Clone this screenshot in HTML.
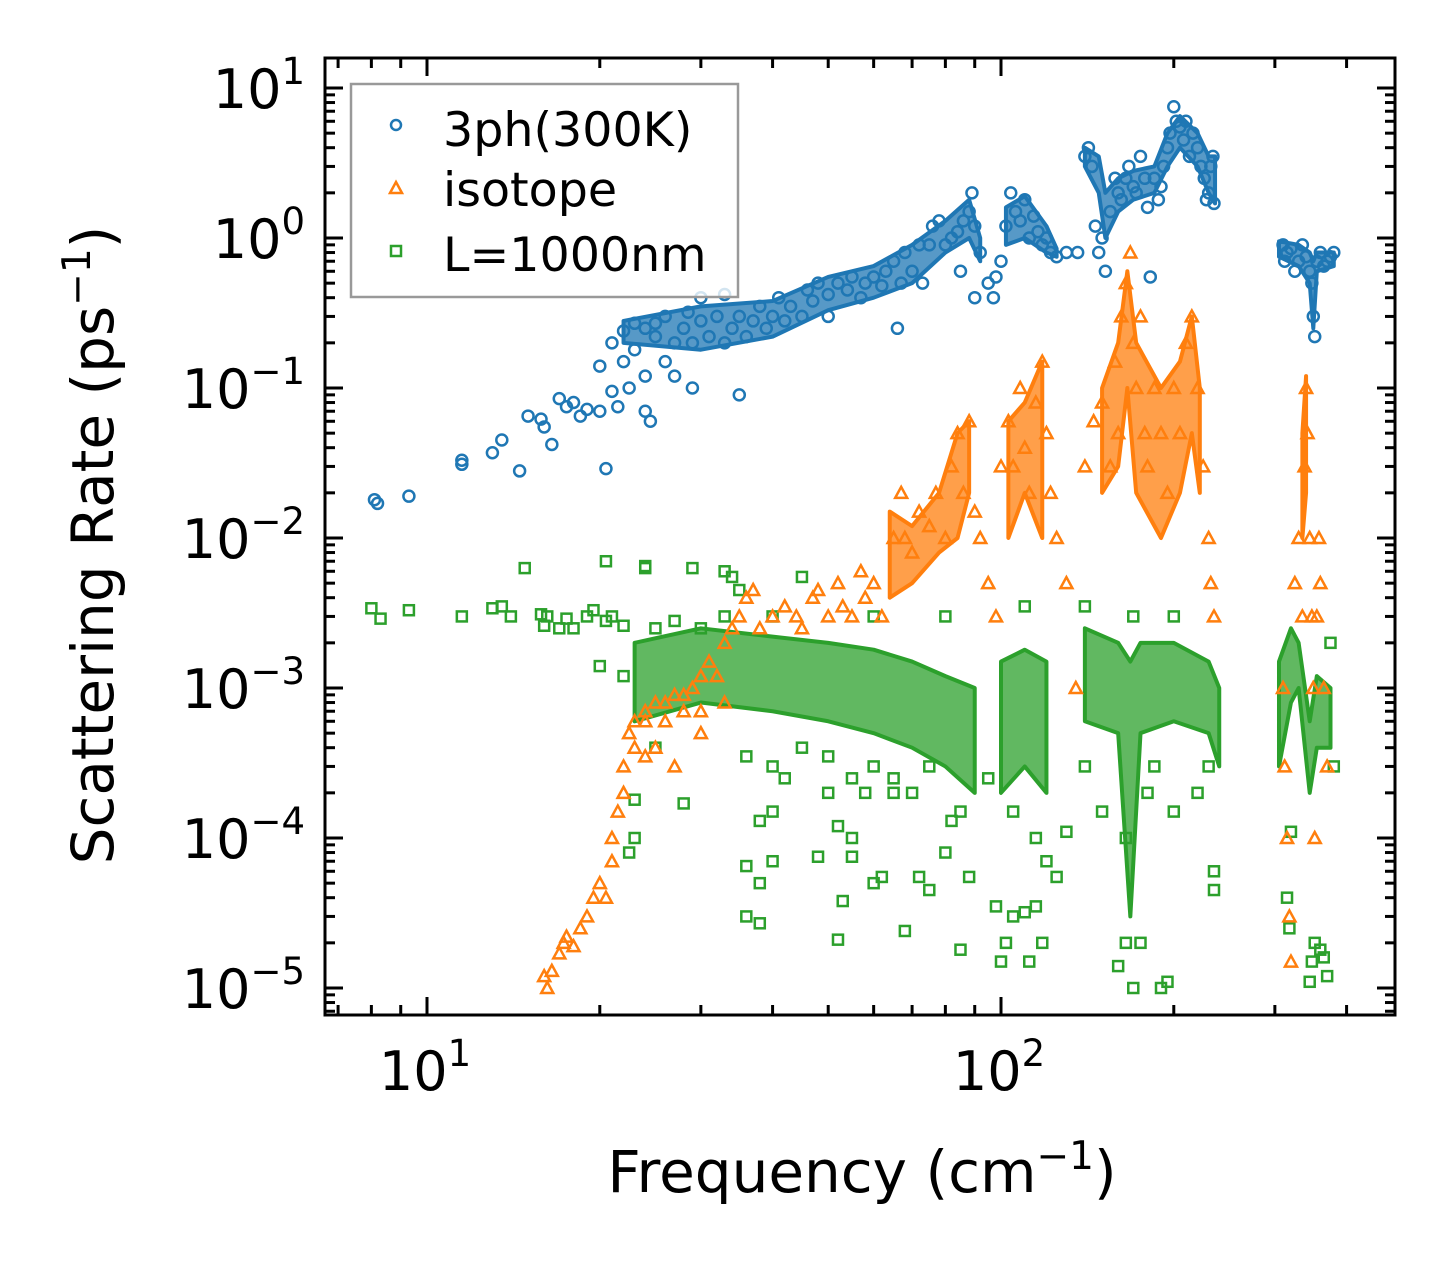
<!DOCTYPE html>
<html><head><meta charset="utf-8"><style>
body{margin:0;background:#fff}
svg{display:block}
text{font-family:"DejaVu Sans","Liberation Sans",sans-serif;fill:#000}
</style></head><body>
<svg id="chart" width="1455" height="1265" viewBox="0 0 1455 1265" xmlns="http://www.w3.org/2000/svg">
<rect width="1455" height="1265" fill="#fff"/>
<g id="bands"></g>
<g id="points"></g>
<g id="axes"></g>
<g>
<rect x="351" y="84" width="387" height="213" fill="#fff" fill-opacity="0.8" stroke="#999" stroke-width="2.5"/>
<circle cx="396" cy="125" r="5" fill="none" stroke="#1f77b4" stroke-width="2.5"/>
<text x="443" y="146" font-size="47.5">3ph(300K)</text>
<polygon points="396,182 402,193 390,193" fill="none" stroke="#ff7f0e" stroke-width="2.5"/>
<text x="443" y="206" font-size="47.5">isotope</text>
<rect x="391" y="246" width="10" height="10" fill="none" stroke="#2ca02c" stroke-width="2.5"/>
<text x="443" y="271" font-size="47.5">L=1000nm</text>
</g>
<text x="862" y="1192" font-size="58" text-anchor="middle">Frequency (cm<tspan dy="-23" font-size="39">−1</tspan><tspan dy="23">)</tspan></text>
<text transform="translate(113,545) rotate(-90)" font-size="58" text-anchor="middle">Scattering Rate (ps<tspan dy="-23" font-size="39">−1</tspan><tspan dy="23">)</tspan></text>
</svg>
<script>
const blue3ph = [[8.1,0.018],[8.2,0.017],[9.3,0.019],[11.5,0.033],[11.5,0.031],[13,0.037],[13.5,0.045],[14.5,0.028],[15,0.065],[15.8,0.062],[16,0.055],[16.5,0.042],[17,0.085],[17.5,0.075],[18,0.08],[18.5,0.065],[19,0.072],[20,0.07],[20,0.14],[20.5,0.029],[21,0.095],[21.5,0.075],[21,0.2],[22,0.15],[22,0.24],[22.5,0.1],[23,0.27],[23,0.18],[24,0.25],[24,0.12],[24,0.07],[24.5,0.06],[25,0.22],[25,0.27],[26,0.15],[26,0.3],[27,0.2],[27,0.12],[28,0.25],[28.5,0.32],[29,0.1],[29,0.2],[30,0.28],[30,0.4],[31,0.22],[32,0.3],[33,0.42],[33,0.2],[34,0.25],[35,0.3],[35,0.09],[36,0.22],[37,0.28],[38,0.35],[39,0.25],[40,0.3],[41,0.4],[42,0.28],[43,0.35],[45,0.3],[46,0.45],[47,0.38],[48,0.5],[50,0.42],[50,0.3],[52,0.5],[54,0.45],[55,0.55],[57,0.4],[58,0.5],[60,0.55],[62,0.48],[63,0.6],[65,0.7],[66,0.25],[67,0.5],[68,0.8],[70,0.6],[72,0.9],[73,0.5],[75,0.9],[76,1.2],[78,1.3],[80,0.9],[82,1.0],[84,1.1],[85,0.6],[86,1.3],[88,1.5],[89,2.0],[90,1.2],[90,0.4],[92,0.8],[95,0.5],[97,0.4],[98,0.55],[100,0.7],[102,1.2],[104,2.0],[106,1.5],[108,1.3],[110,1.8],[112,1.0],[114,1.4],[116,1.1],[118,0.9],[120,1.0],[122,0.8],[125,0.75],[130,0.8],[136,0.8],[140,3.5],[142,4.0],[144,3.0],[146,1.2],[148,0.8],[150,1.0],[152,0.6],[155,1.5],[158,2.5],[160,2.0],[162,1.8],[165,2.5],[167,3.0],[170,2.2],[172,2.0],[175,3.5],[178,2.5],[180,1.6],[182,0.55],[185,2.5],[188,1.8],[190,2.2],[192,3.0],[195,4.0],[197,5.0],[200,7.5],[202,6.0],[205,5.5],[208,4.5],[210,6.0],[213,3.5],[216,5.0],[220,4.0],[223,3.0],[226,2.5],[228,1.8],[230,2.0],[232,3.0],[234,3.5],[235,1.7],[310,0.9],[312,0.7],[315,0.8],[320,0.85],[325,0.6],[330,0.7],[335,0.9],[340,0.75],[345,0.6],[348,0.5],[350,0.3],[352,0.22],[355,0.7],[360,0.8],[365,0.65],[370,0.7],[375,0.75],[380,0.8]];
const orangeIso = [[16,1.2e-5],[16.2,1.0e-5],[16.5,1.3e-5],[17,1.7e-5],[17.3,2e-5],[17.5,2.2e-5],[18,1.9e-5],[18.5,2.5e-5],[19,3e-5],[19.5,4e-5],[20,5e-5],[20.5,4e-5],[21,7e-5],[21,1e-4],[21.5,1.5e-4],[22,2e-4],[22,3e-4],[22.5,5e-4],[23,4e-4],[23,6e-4],[24,7e-4],[24,3.5e-4],[25,8e-4],[25,4e-4],[26,6e-4],[27,9e-4],[27,3e-4],[28,7e-4],[29,1e-3],[30,5e-4],[31,1.5e-3],[33,2e-3],[35,3e-3],[36,4e-3],[38,2.5e-3],[40,3e-3],[42,3.5e-3],[45,2.5e-3],[47,4e-3],[50,3e-3],[52,5e-3],[55,3e-3],[57,6e-3],[60,5e-3],[62,3e-3],[65,1e-2],[67,2e-2],[68,1e-2],[70,8e-3],[72,1.5e-2],[75,1.2e-2],[77,2e-2],[80,1e-2],[82,3e-2],[84,5e-2],[86,2e-2],[88,6e-2],[90,1.5e-2],[92,1e-2],[95,5e-3],[98,3e-3],[100,3e-2],[103,6e-2],[105,3e-2],[108,1e-1],[110,4e-2],[112,2e-2],[115,8e-2],[118,1.5e-1],[120,5e-2],[122,2e-2],[125,1e-2],[130,5e-3],[135,1e-3],[140,3e-2],[145,6e-2],[150,8e-2],[155,3e-2],[158,1.5e-1],[160,5e-2],[162,0.3],[165,0.5],[168,0.8],[170,0.2],[172,0.1],[175,0.3],[178,0.05],[180,0.03],[185,0.1],[190,0.05],[195,0.02],[200,0.1],[205,0.05],[210,0.2],[215,0.3],[220,0.1],[225,0.03],[230,0.01],[232,0.005],[235,0.003],[310,1e-3],[312,3e-4],[315,1e-4],[318,3e-5],[320,1.5e-5],[325,5e-3],[330,1e-2],[335,3e-3],[338,3e-2],[340,0.1],[342,0.05],[345,1e-2],[348,3e-3],[350,1e-3],[352,1e-4],[355,3e-3],[358,1e-2],[360,5e-3],[365,1e-3],[370,3e-4],[24,6e-4],[26,8e-4],[28,9e-4],[30,1.2e-3],[32,1.2e-3],[34,2.5e-3],[37,4.5e-3],[44,3e-3],[48,4.5e-3],[53,3.5e-3],[58,4e-3],[33,8e-4],[30,7e-4]];
const greenBoundary = [[8,3.4e-3],[8.3,2.9e-3],[9.3,3.3e-3],[11.5,3e-3],[13,3.4e-3],[13.5,3.5e-3],[14,3e-3],[14.8,6.3e-3],[15.8,3.1e-3],[16,2.6e-3],[16.2,3e-3],[17,2.5e-3],[17.5,2.9e-3],[18,2.5e-3],[19,3e-3],[19.5,3.3e-3],[20,1.4e-3],[20.5,7e-3],[20.5,2.8e-3],[21,3e-3],[22,2.6e-3],[22,1.2e-3],[22.5,8e-5],[23,1e-4],[23,1.8e-4],[24,6.3e-3],[24,6.5e-3],[25,4e-4],[28,1.7e-4],[29,6.3e-3],[30,2.5e-3],[33,6e-3],[34,5.5e-3],[35,4.5e-3],[36,6.5e-5],[36,3e-5],[38,2.7e-5],[38,5e-5],[38,1.3e-4],[40,7e-5],[40,1.5e-4],[42,2.5e-4],[45,5.5e-3],[48,7.5e-5],[50,2e-4],[52,1.2e-4],[52,2.1e-5],[53,3.8e-5],[55,1e-4],[55,7.5e-5],[58,2e-4],[60,5e-5],[62,5.5e-5],[65,2e-4],[68,2.4e-5],[72,5.5e-5],[75,4.5e-5],[80,8e-5],[82,1.3e-4],[85,1.8e-5],[88,5.5e-5],[95,2.5e-4],[98,3.5e-5],[100,1.5e-5],[102,2e-5],[105,3e-5],[110,3.2e-5],[112,1.5e-5],[115,3.5e-5],[118,2e-5],[120,7e-5],[125,5.5e-5],[130,1.1e-4],[140,3e-4],[150,1.5e-4],[160,1.4e-5],[165,2e-5],[170,1e-5],[175,2e-5],[180,2e-4],[190,1e-5],[195,1.1e-5],[200,1.5e-4],[220,2e-4],[235,6e-5],[235,4.5e-5],[315,4e-5],[318,2.5e-5],[320,1.1e-4],[345,1.1e-5],[348,1.5e-5],[352,2e-5],[360,1.8e-5],[365,1.6e-5],[370,1.2e-5],[375,2e-3],[380,3e-4],[60,3e-3],[80,3e-3],[110,3.5e-3],[140,3.5e-3],[170,3e-3],[200,3e-3],[36,3.5e-4],[40,3e-4],[45,4e-4],[50,3.5e-4],[55,2.5e-4],[60,3e-4],[65,2.5e-4],[70,2e-4],[75,3e-4],[85,1.5e-4],[105,1.5e-4],[115,1e-4],[165,1e-4],[185,3e-4],[230,3e-4],[25,2.5e-3],[27,2.8e-3],[33,3e-3],[40,3e-3]];
// dense-region envelopes: [freq, low, high]
const blueBands = [
 [[22,0.2,0.28],[30,0.18,0.35],[40,0.22,0.38],[50,0.33,0.55],[60,0.4,0.65],[70,0.5,0.9],[80,0.8,1.3],[88,1.0,1.8],[92,0.7,1.0]],
 [[102,0.9,1.6],[110,1.0,1.9],[120,0.8,1.2],[125,0.75,0.85]],
 [[140,3,4],[148,2,3.5],[152,1.0,2],[160,1.5,2.5],[170,1.8,2.8],[185,2,3],[195,3,5],[205,4,6.5],[220,3,5],[230,2,3.5],[236,1.7,3.5]],
 [[305,0.75,0.95],[330,0.65,0.9],[345,0.5,0.8],[350,0.25,0.7],[355,0.6,0.8],[380,0.65,0.8]]];
const orangeBands = [
 [[64,4e-3,1.5e-2],[70,5e-3,1.2e-2],[78,8e-3,2e-2],[84,0.01,0.05],[88,0.02,0.06]],
 [[103,0.01,0.06],[110,0.02,0.08],[118,0.01,0.15]],
 [[150,0.02,0.1],[160,0.03,0.2],[166,0.1,0.6],[172,0.02,0.2],[190,0.01,0.1],[205,0.02,0.15],[215,0.05,0.3],[222,0.02,0.1]],
 [[335,1e-2,0.05],[340,0.02,0.12]]];
const greenBands = [
 [[23,6e-4,2e-3],[30,8e-4,2.5e-3],[40,7e-4,2.2e-3],[50,6e-4,2e-3],[60,5e-4,1.8e-3],[70,4e-4,1.5e-3],[80,3e-4,1.2e-3],[90,2e-4,1e-3]],
 [[100,2e-4,1.5e-3],[110,3e-4,1.8e-3],[120,2e-4,1.5e-3]],
 [[140,6e-4,2.5e-3],[160,5e-4,2e-3],[168,3e-5,1.5e-3],[175,5e-4,2e-3],[200,6e-4,2e-3],[230,5e-4,1.5e-3],[240,3e-4,1e-3]],
 [[305,3e-4,1.5e-3],[320,8e-4,2.5e-3],[330,1e-3,2e-3],[345,2e-4,6e-4],[355,4e-4,1.2e-3],[375,4e-4,1e-3]]];
const xTickVals = [10,100];
const xTickLabels = ["1","2"];
const yTickVals = [10,1,0.1,0.01,0.001,1e-4,1e-5];
const yTickLabels = ["1","0","−1","−2","−3","−4","−5"];

const L=325,R=1395,T=58,B=1015;
const X = f => 427 + (Math.log10(f)-1)*574;
const Y = v => 238 - Math.log10(v)*150;
const NS="http://www.w3.org/2000/svg";
function mk(tag, parent){const e=document.createElementNS(NS,tag);parent.appendChild(e);return e;}
const bandsG=document.getElementById('bands'), ptsG=document.getElementById('points'), axG=document.getElementById('axes');

function drawBands(bands,color,name){
  bands.forEach(seg=>{
    const top=seg.map(d=>X(d[0])+','+Y(d[2]));
    const bot=seg.slice().reverse().map(d=>X(d[0])+','+Y(d[1]));
    const p=mk('polygon',bandsG);
    
    
    p.setAttribute('points',top.concat(bot).join(' '));
    p.setAttribute('fill',color);p.setAttribute('fill-opacity','0.75');
    p.setAttribute('stroke',color);p.setAttribute('stroke-width','4');p.setAttribute('stroke-linejoin','round');
  });
}
drawBands(greenBands,'#2ca02c','boundary-dense-band');
drawBands(orangeBands,'#ff7f0e','isotope-dense-band');
drawBands(blueBands,'#1f77b4','3ph-dense-band');

greenBoundary.forEach(d=>{const e=mk('rect',ptsG);
  
  
  e.setAttribute('x',X(d[0])-5);e.setAttribute('y',Y(d[1])-5);e.setAttribute('width',10);e.setAttribute('height',10);
  e.setAttribute('fill','none');e.setAttribute('stroke','#2ca02c');e.setAttribute('stroke-width','2.5');});
orangeIso.forEach(d=>{const e=mk('polygon',ptsG);
  
  
  const x=X(d[0]),y=Y(d[1]);
  e.setAttribute('points',`${x},${y-6} ${x+6},${y+5} ${x-6},${y+5}`);
  e.setAttribute('fill','none');e.setAttribute('stroke','#ff7f0e');e.setAttribute('stroke-width','2.5');});
blue3ph.forEach(d=>{const e=mk('circle',ptsG);
  
  
  e.setAttribute('cx',X(d[0]));e.setAttribute('cy',Y(d[1]));e.setAttribute('r',5.5);
  e.setAttribute('fill','none');e.setAttribute('stroke','#1f77b4');e.setAttribute('stroke-width','2.5');});

const fr=mk('rect',axG);


fr.setAttribute('x',L);fr.setAttribute('y',T);fr.setAttribute('width',R-L);fr.setAttribute('height',B-T);
fr.setAttribute('fill','none');fr.setAttribute('stroke','#000');fr.setAttribute('stroke-width','3');
function line(x1,y1,x2,y2){const l=mk('line',axG);
  
  
  l.setAttribute('x1',x1);l.setAttribute('y1',y1);l.setAttribute('x2',x2);l.setAttribute('y2',y2);
  l.setAttribute('stroke','#000');l.setAttribute('stroke-width','3');}
for(let dec=1;dec<=100;dec*=10){for(let m=1;m<10;m++){const f=dec*m;const x=X(f);if(x<L+1||x>R-1)continue;
  const len=(m===1)?18:10; line(x,B,x,B-len); line(x,T,x,T+len);}}
for(let e=-6;e<=1;e++){for(let m=1;m<10;m++){const v=m*Math.pow(10,e);const y=Y(v);if(y<T+1||y>B-1)continue;
  const len=(m===1)?18:10; line(L,y,L+len,y); line(R,y,R-len,y);}}
xTickVals.forEach((v,i)=>{const t=mk('text',axG);
  
  
  t.setAttribute('x',X(v)-2);t.setAttribute('y',1090);t.setAttribute('font-size','54');t.setAttribute('text-anchor','middle');
  t.innerHTML=`10<tspan dy="-24" font-size="37">${xTickLabels[i]}</tspan>`;});
yTickVals.forEach((v,i)=>{const t=mk('text',axG);
  
  
  t.setAttribute('x',305);t.setAttribute('y',Y(v)+20);t.setAttribute('font-size','54');t.setAttribute('text-anchor','end');
  t.innerHTML=`10<tspan dy="-24" font-size="37">${yTickLabels[i]}</tspan>`;});
</script>
</body></html>
